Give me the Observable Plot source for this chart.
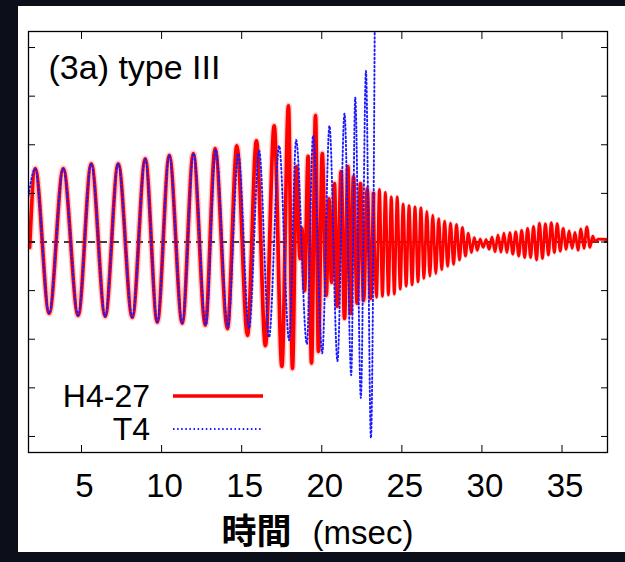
<!DOCTYPE html>
<html><head><meta charset="utf-8">
<script src="https://cdn.jsdelivr.net/npm/d3@7"></script>
<script src="https://cdn.jsdelivr.net/npm/@observablehq/plot@0.6"></script>
<style>
html,body{margin:0;padding:0;}
body{width:625px;height:562px;background:#0c0f1a;position:relative;overflow:hidden;font-family:"Liberation Sans",Arial,sans-serif;}
#panel{position:absolute;left:18px;top:6px;width:607px;height:546px;background:#fff;}
#chart{position:absolute;left:0;top:0;}
#legend{position:absolute;left:0;top:0;}
.lrow{position:absolute;display:flex;align-items:center;font-size:32px;color:#000;line-height:1;}
.lrow span{display:inline-block;width:125px;text-align:right;}
.lrow svg{margin-left:23px;}
#xlabel{position:absolute;left:10px;width:579px;top:505px;text-align:center;font-size:32px;color:#000;line-height:1;white-space:nowrap;}
#xlabel b{font-family:"Noto Sans CJK JP",sans-serif;font-weight:700;font-size:35px;}
#xlabel .u{margin-left:21px;font-size:33px;}
</style></head><body>
<div id="panel"><div id="chart"></div><div id="legend"></div><div id="xlabel"></div></div>
<script>
// ---- data (time in msec, amplitude in arbitrary units) ----
const xTicks = [5, 10, 15, 20, 25, 30, 35];
const yTicks = [-4, -3, -2, -1, 0, 1, 2, 3, 4];
const seriesNames = ["H4-27", "T4"];
const titleText = "(3a) type III";
const xLabelMain = "時間";
const xLabelUnit = "(msec)";

// H4-27 inspiral and merger: successive peaks / troughs [t, h]
const h427Inspiral = [
  [1.76,-0.11],[2.11,1.51],[2.98,-1.47],[3.86,1.51],[4.79,-1.51],[5.61,1.61],[6.48,-1.53],[7.29,1.61],
  [8.17,-1.55],[8.98,1.71],[9.73,-1.65],[10.48,1.78],[11.29,-1.67],[11.98,1.82],[12.73,-1.71],[13.34,1.92],
  [14.11,-1.78],[14.70,1.98],[15.36,-1.92],[15.92,2.08],[16.48,-2.13],[17.03,2.39],[17.51,-2.56],[17.92,2.80],
  [18.17,-2.60],[18.42,1.55],[18.64,-0.34],[18.76,0.28],[18.92,-1.00],[19.15,1.76],[19.36,-2.49],[19.61,2.60],
  [19.79,-2.25],[20.03,1.82],[20.28,-1.10],[20.45,0.89],[20.61,-0.83],[20.79,1.20],[20.96,-1.32],[21.21,1.45],
  [21.42,-1.57],[21.63,1.55],[21.79,-1.47],[21.98,1.34],[22.21,-1.26],[22.42,1.20],[22.61,-1.20],[22.84,1.10],
  [23.04,-1.16],[23.23,1.00]
];
// H4-27 post-merger ringdown: successive peaks / troughs [t, h]
const h427Ringdown = [
  [23.23,1.00],
  [23.42,-1.14],[23.60,1.08],[23.79,-1.12],[23.97,1.02],[24.16,-1.09],[24.34,0.93],[24.53,-1.07],[24.71,0.93],
  [24.90,-0.97],[25.08,0.78],[25.27,-0.91],[25.45,0.75],[25.64,-0.88],[25.82,0.72],[26.01,-0.82],[26.19,0.70],
  [26.38,-0.75],[26.56,0.63],[26.75,-0.70],[26.93,0.55],[27.12,-0.65],[27.30,0.48],[27.49,-0.57],[27.67,0.43],
  [27.86,-0.50],[28.04,0.39],[28.23,-0.46],[28.41,0.36],[28.60,-0.37],[28.78,0.30],[28.97,-0.29],[29.15,0.18],
  [29.34,-0.22],[29.52,0.09],[29.71,-0.17],[29.89,0.06],[30.08,-0.11],[30.26,0.05],[30.45,-0.15],[30.63,0.10],
  [30.82,-0.20],[31.00,0.14],[31.19,-0.21],[31.37,0.18],[31.56,-0.22],[31.74,0.19],[31.93,-0.25],[32.11,0.21],
  [32.30,-0.29],[32.48,0.24],[32.67,-0.32],[32.85,0.28],[33.04,-0.32],[33.22,0.32],[33.41,-0.37],[33.59,0.39],
  [33.78,-0.34],[33.96,0.38],[34.15,-0.27],[34.33,0.40],[34.52,-0.22],[34.70,0.38],[34.89,-0.19],[35.07,0.28],
  [35.26,-0.15],[35.44,0.23],[35.63,-0.13],[35.81,0.20],[36.00,-0.17],[36.18,0.27],[36.37,-0.13],[36.55,0.31],
  [36.74,-0.11],[36.92,0.12],[37.05,0.02],[37.30,0.06],[37.84,0.05]
];

// T4 : successive peaks / troughs [t, h]
const t4 = [
  [1.69,0.95],[2.11,1.51],[2.98,-1.47],[3.86,1.51],[4.79,-1.51],[5.61,1.61],[6.48,-1.53],[7.29,1.61],
  [8.17,-1.55],[8.98,1.71],[9.73,-1.65],[10.48,1.78],[11.29,-1.67],[12.00,1.82],[12.76,-1.71],[13.38,1.90],
  [14.14,-1.76],[14.79,1.82],[15.46,-1.78],[16.09,1.88],[16.71,-1.96],[17.34,1.98],[17.96,-2.02],[18.40,2.10],
  [19.07,-2.10],[19.46,2.19],[20.03,-2.29],[20.48,2.39],[20.98,-2.45],[21.42,2.64],[21.84,-2.74],[22.09,2.97],
  [22.44,-3.21],[22.76,3.52],[23.07,-4.03],[23.31,4.60]
];

const toRows = (arr) => arr.map(([t, h]) => ({t, h}));
const RED = "#ff0000", BLUE = "#1a1aff", BLUE_DASH = "1.5,2.6";

const plot = Plot.plot({
  width: 607,
  height: 500,
  marginLeft: 10,
  marginRight: 18,
  marginTop: 25,
  marginBottom: 54,
  style: {background: "transparent", color: "black", fontFamily: "'Liberation Sans', Arial, sans-serif"},
  x: {domain: [1.69, 37.84]},
  y: {domain: [-4.33, 4.33]},
  marks: [
    Plot.ruleY([0], {stroke: "black", strokeWidth: 1.3, strokeDasharray: "7,5"}),
    Plot.line(toRows(h427Inspiral), {x: "t", y: "h", curve: "monotone-x", stroke: RED, strokeOpacity: 0.2, strokeWidth: 6.5, clip: true}),
    Plot.line(toRows(h427Inspiral), {x: "t", y: "h", curve: "monotone-x", stroke: RED, strokeWidth: 3.7, clip: true}),
    Plot.line(toRows(h427Ringdown), {x: "t", y: "h", curve: "monotone-x", stroke: RED, strokeOpacity: 0.15, strokeWidth: 4.2, clip: true}),
    Plot.line(toRows(h427Ringdown), {x: "t", y: "h", curve: "monotone-x", stroke: RED, strokeWidth: 2.8, clip: true}),
    Plot.line(toRows(t4), {x: "t", y: "h", curve: "monotone-x", stroke: BLUE, strokeWidth: 1.9, strokeDasharray: BLUE_DASH, clip: true}),
    Plot.frame({stroke: "black", strokeWidth: 1.3}),
    Plot.axisX({ticks: xTicks, anchor: "bottom", tickSize: 0, tickPadding: 21, dx: 3, fontSize: 33, label: null}),
    Plot.axisX({ticks: xTicks, anchor: "bottom", tickSize: -7, tickFormat: () => "", label: null}),
    Plot.axisX({ticks: xTicks, anchor: "top", tickSize: -7, tickFormat: () => "", label: null}),
    Plot.axisY({ticks: yTicks, anchor: "left", tickSize: -7, tickFormat: () => "", label: null}),
    Plot.axisY({ticks: yTicks, anchor: "right", tickSize: -7, tickFormat: () => "", label: null}),
    Plot.text([titleText], {frameAnchor: "top-left", dx: 20, dy: 23, fontSize: 34, textAnchor: "start", lineAnchor: "top", fill: "black"})
  ]
});
document.getElementById("chart").appendChild(plot);

// legend (inside the frame, lower left)
const legend = document.getElementById("legend");
const styles = [
  {stroke: RED, width: 3.7, dash: null},
  {stroke: BLUE, width: 1.9, dash: BLUE_DASH}
];
const rowTops = [374, 407];
seriesNames.forEach((name, i) => {
  const row = document.createElement("div");
  row.className = "lrow";
  row.style.left = "7px";
  row.style.top = rowTops[i] + "px";
  const s = styles[i];
  row.innerHTML = `<span>${name}</span><svg width="90" height="10"><line x1="0" x2="90" y1="5" y2="5" stroke="${s.stroke}" stroke-width="${s.width}" ${s.dash ? `stroke-dasharray="${s.dash}"` : ""}/></svg>`;
  legend.appendChild(row);
});

document.getElementById("xlabel").innerHTML = `<b>${xLabelMain}</b><span class="u">${xLabelUnit}</span>`;
</script>
</body></html>
